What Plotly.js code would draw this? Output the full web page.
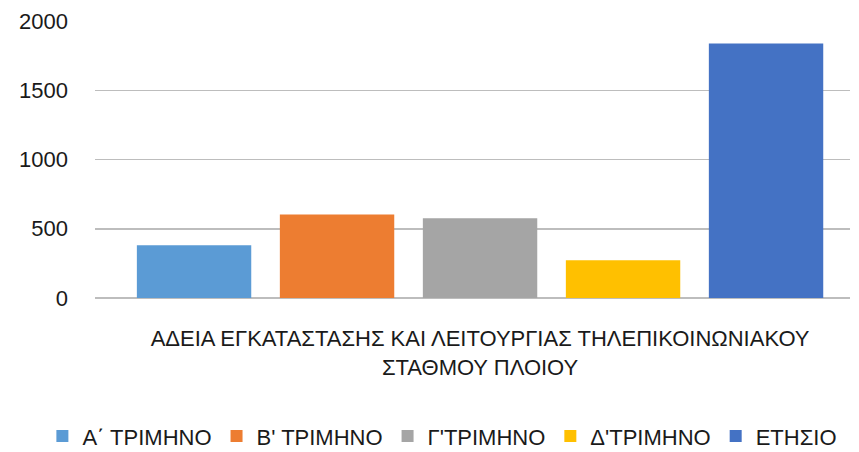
<!DOCTYPE html>
<html><head><meta charset="utf-8">
<script src="https://cdn.plot.ly/plotly-3.0.1.min.js"></script>
<style>html,body{margin:0;padding:0;background:#fff}</style>
</head><body><div id="chart" style="width:859px;height:452px"></div>
<script>
const category = ["ΑΔΕΙΑ ΕΓΚΑΤΑΣΤΑΣΗΣ ΚΑΙ ΛΕΙΤΟΥΡΓΙΑΣ ΤΗΛΕΠΙΚΟΙΝΩΝΙΑΚΟΥ<br>ΣΤΑΘΜΟΥ ΠΛΟΙΟΥ"];
const seriesNames = ["Α΄ ΤΡΙΜΗΝΟ", "Β' ΤΡΙΜΗΝΟ", "Γ'ΤΡΙΜΗΝΟ", "Δ'ΤΡΙΜΗΝΟ", "ΕΤΗΣΙΟ"];
const seriesValues = [380, 602, 575, 272, 1838];
const seriesColors = ["#5B9BD5", "#ED7D31", "#A5A5A5", "#FFC000", "#4472C4"];

const font = {family: "Liberation Sans, Arial, sans-serif", size: 22, color: "#1a1a1a"};
const legendFont = {family: "Liberation Sans, Arial, sans-serif", size: 22, color: "#1a1a1a"};
const data = seriesNames.map((n, i) => ({
  type: "bar", name: n, x: category, y: [seriesValues[i]],
  marker: {color: seriesColors[i]}, hoverinfo: "y"
}));
const layout = {
  width: 859, height: 452,
  margin: {l: 0, r: 0, t: 21, b: 154},
  paper_bgcolor: "#fff", plot_bgcolor: "#fff",
  font: font,
  barmode: "group", bargap: 0.053, bargroupgap: 0.2,
  xaxis: {domain: [95/859, 850/859], showgrid: false, showline: false, zeroline: false, ticks: "", tickfont: font,
          ticklabelstandoff: 25, range: [-0.51, 0.49], automargin: false},
  yaxis: {range: [0, 2000], dtick: 500, tick0: 0, showgrid: true, gridcolor: "#bdbdbd", gridwidth: 1.5,
          zeroline: true, zerolinecolor: "#bdbdbd", zerolinewidth: 1.5, showline: false, ticks: "",
          tickfont: font, ticklabelstandoff: 26, automargin: false},
  legend: {orientation: "h", x: 0.515, xref: "container", xanchor: "center", y: 0.035, yref: "container", yanchor: "middle", font: legendFont,
           itemwidth: 30, tracegroupgap: 0, traceorder: "normal"},
  showlegend: true
};
Plotly.newPlot("chart", data, layout, {displayModeBar: false, staticPlot: true});
</script></body></html>
